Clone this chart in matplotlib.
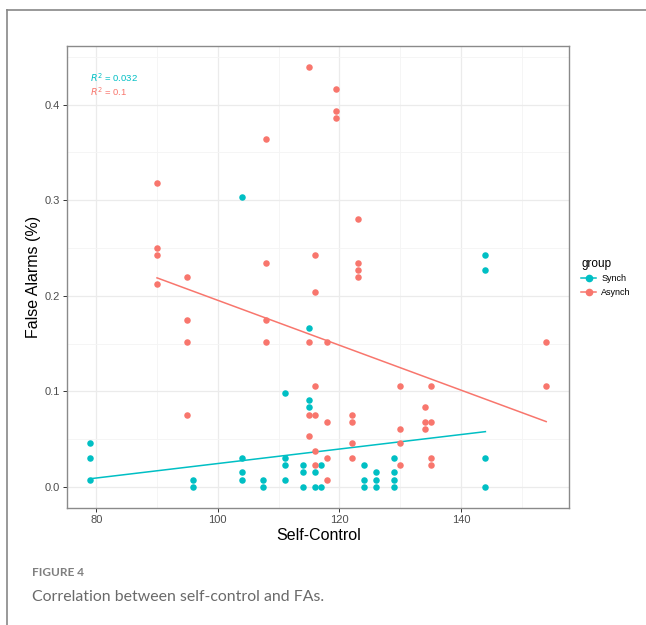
import numpy as np
import matplotlib
matplotlib.use("Agg")
import matplotlib.pyplot as plt
from matplotlib.lines import Line2D

plt.rcParams["font.family"] = ["Liberation Sans", "DejaVu Sans"]

# Self-control score vs false alarm rate
synch_x = [79, 79, 79, 96, 96, 104, 104, 104, 104, 107.5, 107.5,
           111, 111, 111, 111, 114, 114, 114, 115, 115, 115, 116, 116,
           117, 117, 124, 124, 124, 126, 126, 126, 129, 129, 129, 129,
           144, 144, 144, 144]
synch_y = [0.0455, 0.0303, 0.0076, 0.0076, 0.0, 0.3030, 0.0303, 0.0152, 0.0076, 0.0076, 0.0,
           0.0985, 0.0303, 0.0227, 0.0076, 0.0227, 0.0152, 0.0, 0.1667, 0.0909, 0.0833, 0.0152, 0.0,
           0.0227, 0.0, 0.0227, 0.0076, 0.0, 0.0152, 0.0076, 0.0, 0.0303, 0.0152, 0.0076, 0.0,
           0.2424, 0.2273, 0.0303, 0.0]

asynch_x = [90, 90, 90, 90, 95, 95, 95, 95, 108, 108, 108, 108,
            115, 115, 115, 115, 116, 116, 116, 116, 116, 116,
            118, 118, 118, 118, 119.5, 119.5, 119.5, 122, 122, 122, 122,
            123, 123, 123, 123, 130, 130, 130, 130, 134, 134, 134,
            135, 135, 135, 135, 154, 154]
asynch_y = [0.3182, 0.2500, 0.2424, 0.2121, 0.2197, 0.1742, 0.1515, 0.0758,
            0.3636, 0.2348, 0.1742, 0.1515, 0.4394, 0.1515, 0.0758, 0.0530,
            0.2424, 0.2045, 0.1061, 0.0758, 0.0379, 0.0227,
            0.1515, 0.0682, 0.0303, 0.0076, 0.4167, 0.3939, 0.3864,
            0.0758, 0.0682, 0.0455, 0.0303, 0.2803, 0.2348, 0.2273, 0.2197,
            0.1061, 0.0606, 0.0455, 0.0227, 0.0833, 0.0682, 0.0606,
            0.1061, 0.0682, 0.0303, 0.0227, 0.1515, 0.1061]

# lm fit lines as drawn in the figure (ends at each group's x range)
synch_fit_x = [79, 144]
synch_fit_y = [0.0086, 0.0579]
asynch_fit_x = [90, 154]
asynch_fit_y = [0.2188, 0.0684]

groups = ["Synch", "Asynch"]
colors = {"Synch": "#00BFC4", "Asynch": "#F8766D"}
r2_labels = {"Synch": "0.032", "Asynch": "0.1"}

fig = plt.figure(figsize=(6.46, 6.25), dpi=100)
ax = fig.add_axes([0.1042, 0.1872, 0.7766, 0.7392])

data = {"Synch": (synch_x, synch_y, synch_fit_x, synch_fit_y),
        "Asynch": (asynch_x, asynch_y, asynch_fit_x, asynch_fit_y)}
for g in groups:
    x, y, fx, fy = data[g]
    ax.scatter(x, y, s=22, color=colors[g], linewidths=0, zorder=3)
    ax.plot(fx, fy, color=colors[g], lw=1.1, zorder=2)

ax.set_xlim(75.25, 157.75)
ax.set_ylim(-0.022, 0.4614)
ax.set_xticks([80, 100, 120, 140])
ax.set_yticks([0.0, 0.1, 0.2, 0.3, 0.4])
ax.set_yticklabels(["0.0", "0.1", "0.2", "0.3", "0.4"])
ax.set_xticks([90, 110, 130, 150], minor=True)
ax.set_yticks([0.05, 0.15, 0.25, 0.35, 0.45], minor=True)
ax.grid(which="major", color="#EBEBEB", lw=0.9, zorder=0)
ax.grid(which="minor", color="#F4F4F4", lw=0.6, zorder=0)
ax.set_axisbelow(True)
ax.tick_params(which="major", length=3, width=0.7, color="#333333",
               labelsize=8, labelcolor="#4D4D4D", pad=2)
ax.tick_params(which="minor", length=0)
for sp in ax.spines.values():
    sp.set_color("#8A8A8A")
    sp.set_linewidth(1.0)

ax.set_xlabel("Self-Control", fontsize=11.5, labelpad=2)
ax.set_ylabel("False Alarms (%)", fontsize=11.5, labelpad=3)

ax.text(0.045, 0.931, r"$R^2$ = " + r2_labels["Synch"], transform=ax.transAxes,
        color=colors["Synch"], fontsize=6.8, va="center")
ax.text(0.045, 0.901, r"$R^2$ = " + r2_labels["Asynch"], transform=ax.transAxes,
        color=colors["Asynch"], fontsize=6.8, va="center")

handles = [Line2D([0], [0], color=colors[g], marker="o", markersize=4.5, lw=1.1)
           for g in groups]
leg = fig.legend(handles, groups, title="group", loc="upper left",
                 bbox_to_anchor=(0.893, 0.595), frameon=False, fontsize=6.5,
                 title_fontsize=8.5, handlelength=1.6, labelspacing=0.5,
                 handletextpad=0.6, borderpad=0)
leg._legend_box.align = "left"

# page frame (top and left rules) and figure caption
fig.add_artist(Line2D([7 / 646, 1.0], [1 - 10 / 625, 1 - 10 / 625],
                      color="#888888", lw=1.2, transform=fig.transFigure))
fig.add_artist(Line2D([7 / 646, 7 / 646], [0.0, 1 - 10 / 625],
                      color="#888888", lw=1.2, transform=fig.transFigure))
fig.text(32 / 646, 1 - 573 / 625, "FIGURE 4", fontsize=8.5, color="#7F7F7F",
         family=["Lato", "DejaVu Sans"], fontweight="bold", va="center")
fig.text(32 / 646, 1 - 597 / 625, "Correlation between self-control and FAs.",
         fontsize=11.4, color="#6A6A6A", family=["Lato", "DejaVu Sans"],
         va="center")

fig.savefig("out.png", dpi=100)
